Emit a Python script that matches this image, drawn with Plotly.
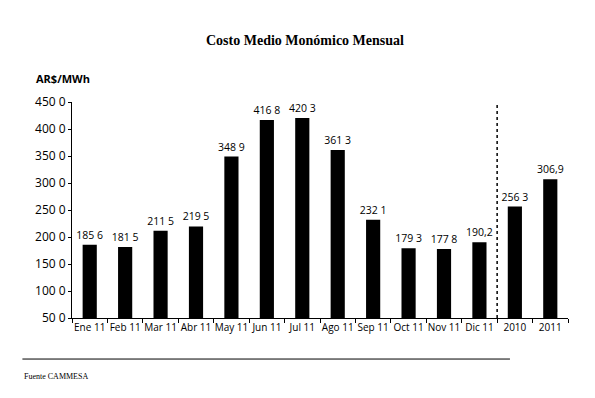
import plotly.graph_objects as go

categories = ["Ene 11", "Feb 11", "Mar 11", "Abr 11", "May 11", "Jun 11", "Jul 11",
              "Ago 11", "Sep 11", "Oct 11", "Nov 11", "Dic 11", "2010", "2011"]
values = [185.6, 181.5, 211.5, 219.5, 348.9, 416.8, 420.3,
          361.3, 232.1, 179.3, 177.8, 190.2, 256.3, 306.9]
value_labels = ["185 6", "181 5", "211 5", "219 5", "348 9", "416 8", "420 3",
                "361 3", "232 1", "179 3", "177 8", "190,2", "256 3", "306,9"]
y_ticks = [50, 100, 150, 200, 250, 300, 350, 400, 450]
y_tick_labels = ["50 0", "100 0", "150 0", "200 0", "250 0", "300 0", "350 0", "400 0", "450 0"]

fig = go.Figure()
fig.add_trace(go.Bar(
    x=categories, y=values, text=value_labels, textposition="outside",
    marker=dict(color="black", line=dict(width=0)),
    textfont=dict(family="Open Sans, DejaVu Sans", size=10.5, color="black"),
    constraintext="none", cliponaxis=False, width=0.4,
))

fig.add_shape(type="line", xref="x", yref="paper", x0=11.5, x1=11.5, y0=0, y1=1.0,
              line=dict(color="black", width=1.5, dash="dot"))
fig.add_shape(type="line", xref="paper", yref="paper", x0=-0.1, x1=0.883,
              y0=-0.19, y1=-0.19, line=dict(color="black", width=1))

fig.update_layout(
    width=595, height=398,
    margin=dict(l=64, r=35, t=94, b=88, autoexpand=False),
    paper_bgcolor="white", plot_bgcolor="white",
    showlegend=False,
    font=dict(family="Open Sans, DejaVu Sans", size=11, color="black"),
    xaxis=dict(type="category", showline=True, linecolor="black", linewidth=1,
               ticks="outside", tickson="boundaries", ticklen=4, tickcolor="black",
               showgrid=False, tickangle=0, automargin=False,
               tickfont=dict(family="Open Sans, DejaVu Sans", size=10)),
    yaxis=dict(range=[50, 450], tickvals=y_ticks, ticktext=y_tick_labels,
               showline=True, linecolor="black", linewidth=1, ticks="outside",
               ticklen=3, tickcolor="black", showgrid=False, zeroline=False,
               automargin=False, tickfont=dict(family="Open Sans, DejaVu Sans", size=12)),
    annotations=[
        dict(text="<b>Costo Medio Monómico Mensual</b>", xref="paper", yref="paper",
             x=0.47, y=1.0, yshift=62, yanchor="middle", showarrow=False,
             font=dict(family="Liberation Serif, DejaVu Serif", size=14)),
        dict(text="<b>AR$/MWh</b>", xref="paper", yref="paper",
             x=0, xshift=-38, y=1.0, yshift=24, xanchor="left", yanchor="middle",
             showarrow=False, font=dict(family="Open Sans, DejaVu Sans", size=11)),
        dict(text="Fuente CAMMESA", xref="paper", yref="paper",
             x=0, xshift=-50, y=0, yshift=-58, xanchor="left", yanchor="middle",
             showarrow=False, font=dict(family="Liberation Serif, DejaVu Serif", size=8)),
    ],
)

fig.write_html("out.html")
